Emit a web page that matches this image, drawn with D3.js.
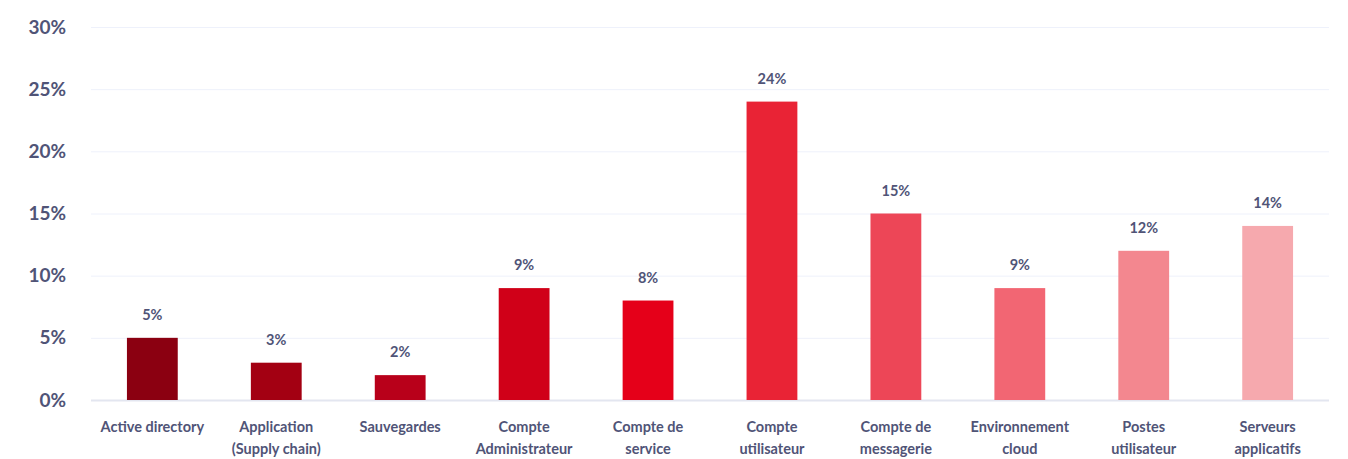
<!DOCTYPE html>
<html>
<head>
<meta charset="utf-8">
<script src="https://cdn.jsdelivr.net/npm/d3@7"></script>
<style>
  body { margin: 0; background: #fff; }
  svg { display: block; }
  text { font-family: Lato, "Noto Sans", sans-serif; fill: #505477; }
</style>
</head>
<body>
<svg width="1348" height="459"></svg>
<script>
const categories = [
  ['Active directory'],
  ['Application', '(Supply chain)'],
  ['Sauvegardes'],
  ['Compte', 'Administrateur'],
  ['Compte de', 'service'],
  ['Compte', 'utilisateur'],
  ['Compte de', 'messagerie'],
  ['Environnement', 'cloud'],
  ['Postes', 'utilisateur'],
  ['Serveurs', 'applicatifs']
];
const values = [5, 3, 2, 9, 8, 24, 15, 9, 12, 14];
const colors = ['#8b0011', '#a30012', '#b8001a', '#d00018', '#e50019',
  '#e92335', '#ed4657', '#f26673', '#f3878f', '#f6a9ae'];
const yTicks = [0, 5, 10, 15, 20, 25, 30];

var svg = d3.select('svg'),
  margin = { top: 27, right: 19, bottom: 59, left: 91 },
  width = svg.attr('width') - margin.left - margin.right,
  height = svg.attr('height') - margin.top - margin.bottom,
  g = svg.append('g').attr('transform', 'translate(' + margin.left + ',' + margin.top + ')');

const x = d3.scaleBand().range([0, width]).domain(d3.range(values.length)).paddingInner(0.59).paddingOuter(0.29);
const y = d3.scaleLinear().range([height, 0]).domain([0, 30]);

// grid
g.append('g')
  .selectAll('line')
  .data(yTicks)
  .enter().append('line')
  .attr('x1', 0)
  .attr('x2', width)
  .attr('y1', d => y(d) + 0.5)
  .attr('y2', d => y(d) + 0.5)
  .style('stroke', d => d === 0 ? '#e3e6f0' : '#eef1fb')
  .style('stroke-width', d => d === 0 ? 2 : 1);

// y labels
g.append('g')
  .selectAll('text')
  .data(yTicks)
  .enter().append('text')
  .attr('x', -25)
  .attr('y', d => y(d))
  .attr('dy', '0.35em')
  .attr('text-anchor', 'end')
  .style('font-size', '19px')
  .style('font-weight', 700)
  .text(d => d + '%');

// bars
g.selectAll('.bar')
  .data(values)
  .enter().append('rect')
  .attr('class', 'bar')
  .attr('x', (d, i) => x(i))
  .attr('width', x.bandwidth())
  .attr('y', d => y(d))
  .attr('height', d => y(0) - y(d))
  .style('fill', (d, i) => colors[i]);

// value labels
g.selectAll('.val')
  .data(values)
  .enter().append('text')
  .attr('class', 'val')
  .attr('x', (d, i) => x(i) + x.bandwidth() / 2)
  .attr('y', d => y(d) - 18)
  .attr('text-anchor', 'middle')
  .style('font-size', '14.5px')
  .style('font-weight', 700)
  .text(d => d + '%');

// category labels
const cat = g.selectAll('.cat')
  .data(categories)
  .enter().append('text')
  .attr('class', 'cat')
  .attr('x', (d, i) => x(i) + x.bandwidth() / 2)
  .attr('y', height + 32)
  .attr('text-anchor', 'middle')
  .style('font-size', '14.5px')
  .style('font-weight', 700);

cat.selectAll('tspan')
  .data(d => d)
  .enter().append('tspan')
  .attr('x', function () { return d3.select(this.parentNode).attr('x'); })
  .attr('dy', (d, i) => i ? 22 : 0)
  .text(d => d);
</script>
</body>
</html>
